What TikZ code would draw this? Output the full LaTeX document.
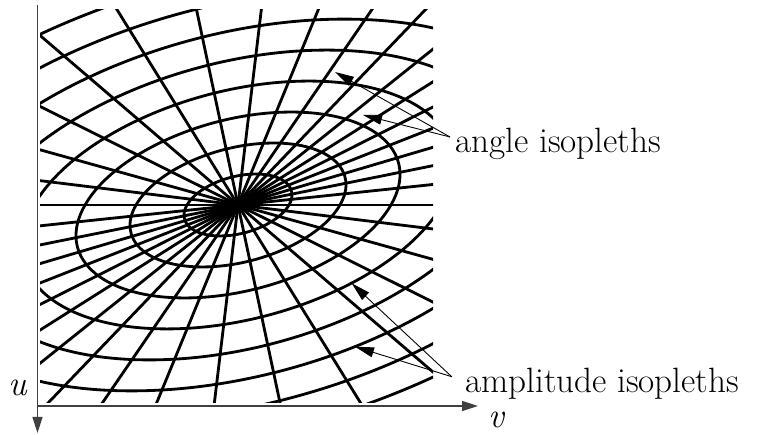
\documentclass[tikz,border=0pt]{standalone}
\usepackage{fontspec}
\usetikzlibrary{arrows.meta, positioning}

\begin{document}
\begin{tikzpicture}[x=0.02cm,y=0.02cm,every node/.style={font=\fontsize{20}{24}\selectfont},
  isoline/.style={line width=1.6pt},
  axisline/.style={black!75,line width=0.8pt,-{Triangle[length=0.32cm,width=0.2cm]}},
  pointer/.style={line width=0.5pt,-{Triangle[length=0.38cm,width=0.2cm]}}]
  \useasboundingbox (0,0) rectangle (761,435);
  \coordinate (C) at (238,230);
  % isopleths, clipped to the plot square
  \begin{scope}
    \clip (40,32) rectangle (433,425);
    \begin{scope}[shift={(C)},cm={0.9271,0,0.3227,0.5633,(0,0)}]
      \foreach \k in {1,...,10}{ \draw[isoline] (0,0) circle[radius=55*\k]; }
    \end{scope}
    \begin{scope}[shift={(C)},cm={0.8817,0,0.3886,0.5671,(0,0)}]
      \foreach \a in {0,10,...,170}{ \draw[isoline] (\a:-1500) -- (\a:1500); }
    \end{scope}
  \end{scope}
  % axes
  \coordinate (utop) at (37.5,430);
  \coordinate (uend) at (37.5,2);
  \coordinate (vstart) at (37.5,29);
  \coordinate (vend) at (478,29);
  \draw[axisline] (utop) -- (uend);
  \draw[axisline] (vstart) -- (vend);
  \node (ulab) at (18,47) {\textit{u}};
  \node (vlab) at (497,15) {\textit{v}};
  % labels
  \coordinate (angfoot) at (450,298);
  \coordinate (angtipa) at (335,363);
  \coordinate (angtipb) at (363,320);
  \node[anchor=west,inner sep=0] (anglab) at (455,291) {angle isopleths};
  \draw[pointer] (angfoot) -- (angtipa);
  \draw[pointer] (angfoot) -- (angtipb);
  \coordinate (ampfoot) at (451.7,58.3);
  \coordinate (amptipa) at (351.7,151.7);
  \coordinate (amptipb) at (355,88.3);
  \node[anchor=west,inner sep=0] (amplab) at (465,51) {amplitude isopleths};
  \draw[pointer] (ampfoot) -- (amptipa);
  \draw[pointer] (ampfoot) -- (amptipb);
\end{tikzpicture}
\end{document}
